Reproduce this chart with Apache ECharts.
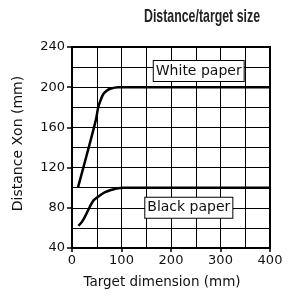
<!DOCTYPE html>
<html>
<head>
<meta charset="utf-8">
<script src="https://cdn.jsdelivr.net/npm/echarts@6/dist/echarts.min.js"></script>
<style>
  html, body { margin: 0; padding: 0; background: #fff; }
  #chart { width: 294px; height: 299px; }
</style>
</head>
<body>
<div id="chart"></div>
<script>
// curve points: [target dimension, distance]
const whitePaper = [[12, 100], [30, 133], [48, 167], [53, 180], [57, 186], [63, 193], [70, 196.5], [77, 198.5], [94, 200], [400, 200]];
const blackPaper = [[13, 62], [20, 66], [26, 71], [36, 81], [43, 87], [50, 90], [57, 92.5], [67, 95.5], [77, 97.5], [90, 99.3], [104, 100], [400, 100]];
const xTicks = [0, 100, 200, 300, 400];
const yTicks = [40, 80, 120, 160, 200, 240];
const boxLabels = [
  { text: 'White paper', coord: [256, 216] },
  { text: 'Black paper', coord: [236, 80] }
];
const titleText = 'Distance/target size';

const chart = echarts.init(document.getElementById('chart'));
const font = 'DejaVu Sans';

function boxMark(b) {
  return {
    symbol: 'rect', symbolSize: 1, itemStyle: { color: 'rgba(0,0,0,0)' },
    label: {
      show: true, formatter: b.text, position: 'inside',
      fontFamily: font, fontSize: 14, color: '#111',
      backgroundColor: '#fff', borderColor: '#000', borderWidth: 1, padding: [3, 2, 3, 2]
    },
    data: [{ coord: b.coord }]
  };
}

const option = {
  animation: false,
  graphic: [{
    type: 'text',
    x: 260, y: 17,
    scaleX: 0.65,
    style: {
      text: titleText, align: 'right', verticalAlign: 'middle',
      font: 'bold 19px "Liberation Sans"', fill: '#222'
    }
  }],
  grid: { left: 72, right: 24, top: 47, bottom: 51, show: true, borderColor: '#000', borderWidth: 2 },
  xAxis: {
    type: 'value',
    min: xTicks[0], max: xTicks[xTicks.length - 1], interval: 100,
    name: 'Target dimension (mm)', nameLocation: 'middle', nameGap: 27,
    nameTextStyle: { fontFamily: font, fontSize: 13.5, color: '#111', padding: [0, 18, 0, 0] },
    axisLine: { onZero: false, lineStyle: { color: '#000', width: 2 } },
    axisTick: { show: true, length: 4, lineStyle: { color: '#000', width: 1.5 } },
    axisLabel: { fontFamily: font, fontSize: 13, color: '#111', margin: 6 },
    splitLine: { show: true, lineStyle: { color: '#000', width: 1 } },
    minorTick: { show: false, splitNumber: 2 },
    minorSplitLine: { show: true, lineStyle: { color: '#000', width: 1 } }
  },
  yAxis: {
    type: 'value',
    min: yTicks[0], max: yTicks[yTicks.length - 1], interval: 40,
    name: 'Distance Xon (mm)', nameLocation: 'middle', nameGap: 47,
    nameTextStyle: { fontFamily: font, fontSize: 14, color: '#111', padding: [0, 0, 0, 8] },
    axisLine: { onZero: false, lineStyle: { color: '#000', width: 2 } },
    axisTick: { show: true, length: 5, lineStyle: { color: '#000', width: 1.5 } },
    axisLabel: { fontFamily: font, fontSize: 13, color: '#111', margin: 7 },
    splitLine: { show: true, lineStyle: { color: '#000', width: 1 } },
    minorTick: { show: false, splitNumber: 2 },
    minorSplitLine: { show: true, lineStyle: { color: '#000', width: 1 } }
  },
  series: [
    {
      name: 'White paper',
      type: 'line',
      data: whitePaper,
      smooth: 0.3,
      showSymbol: false,
      lineStyle: { color: '#000', width: 2.5 },
      markPoint: boxMark(boxLabels[0])
    },
    {
      name: 'Black paper',
      type: 'line',
      data: blackPaper,
      smooth: 0.3,
      showSymbol: false,
      lineStyle: { color: '#000', width: 2.5 },
      markPoint: boxMark(boxLabels[1])
    }
  ]
};
chart.setOption(option);
</script>
</body>
</html>
